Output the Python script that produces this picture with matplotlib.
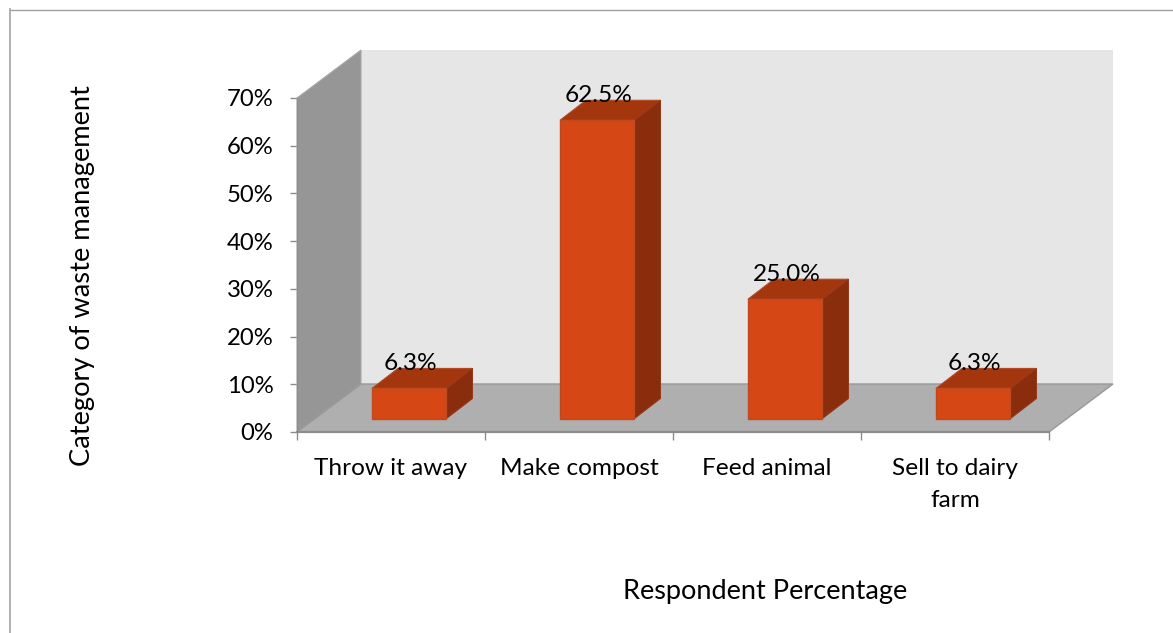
import matplotlib
matplotlib.use('Agg')
import matplotlib.pyplot as plt
from matplotlib.lines import Line2D
from matplotlib.patches import Polygon

categories = ['Throw it away', 'Make compost', 'Feed animal', 'Sell to dairy\nfarm']
values = [6.3, 62.5, 25.0, 6.3]
value_labels = ['6.3%', '62.5%', '25.0%', '6.3%']
y_ticks = [0, 10, 20, 30, 40, 50, 60, 70]

W, H = 1173, 633
LEFT, RIGHT, BOTTOM, TOP = 297, 1049, 432, 98

plt.rcParams['font.family'] = ['Lato', 'DejaVu Sans']

fig = plt.figure(figsize=(W / 100, H / 100), dpi=100)
ax = fig.add_axes([LEFT / W, 1 - BOTTOM / H, (RIGHT - LEFT) / W, (BOTTOM - TOP) / H])
ax.set_xlim(0, 4)
ax.set_ylim(0, 70)
ax.patch.set_visible(False)

# pixels per data unit, used for the fake 3d depth
px_x = (RIGHT - LEFT) / 4
px_y = (BOTTOM - TOP) / 70
depth_x = 64 / px_x
depth_y = 48 / px_y


def poly(points, color, z, edge=None, lw=0):
    ax.add_patch(Polygon(points, closed=True, facecolor=color, edgecolor=edge or color,
                         linewidth=lw, zorder=z, clip_on=False))


# back wall, side wall, floor
poly([(depth_x, depth_y), (4 + depth_x, depth_y), (4 + depth_x, 70 + depth_y), (depth_x, 70 + depth_y)],
     '#e6e6e6', 1)
poly([(0, 0), (depth_x, depth_y), (depth_x, 70 + depth_y), (0, 70)], '#969696', 2, '#a8a8a8', 0.8)
poly([(0, 0), (4, 0), (4 + depth_x, depth_y), (depth_x, depth_y)], '#afafaf', 2, '#989898', 1.0)

# bars: front face plus top and side faces
bar_w = 74.5 / px_x
bar_dx = 26 / px_x
bar_dy = 20 / px_y
shift_x = 18.2 / px_x
base = 13.5 / px_y
centers = [i + 0.5 + shift_x for i in range(len(values))]

ax.bar(centers, values, width=bar_w, bottom=base, color='#d54714', edgecolor='#bf4a22',
       linewidth=1.0, zorder=5, clip_on=False)
for c, v, label in zip(centers, values, value_labels):
    x0, x1 = c - bar_w / 2, c + bar_w / 2
    y0, y1 = base, base + v
    poly([(x0, y1), (x1, y1), (x1 + bar_dx, y1 + bar_dy), (x0 + bar_dx, y1 + bar_dy)],
         '#a3360d', 4, '#b04a25', 0.8)
    poly([(x1, y0), (x1 + bar_dx, y0 + bar_dy), (x1 + bar_dx, y1 + bar_dy), (x1, y1)],
         '#8a2d0c', 4, '#96381a', 0.8)
    ax.text(c + 1.5 / px_x, y1 + 25 / px_y, label, ha='center', va='center',
            fontsize=17.6, color='black', zorder=6, clip_on=False)

for side in ['top', 'right']:
    ax.spines[side].set_visible(False)
ax.spines['left'].set_color('#8c8c8c')
ax.spines['bottom'].set_color('#8c8c8c')
ax.spines['bottom'].set_linewidth(1.6)
ax.spines['left'].set_zorder(3)
ax.spines['bottom'].set_zorder(3)

ax.set_yticks(y_ticks)
ax.set_yticklabels([f'{t}%' for t in y_ticks], fontsize=17.2)
ax.tick_params(axis='y', length=5, width=1, color='#8c8c8c', pad=12)

# ticks sit on category boundaries, labels between them
ax.set_xticks(range(5))
ax.set_xticklabels([])
ax.tick_params(axis='x', which='major', length=6, width=1, color='#8c8c8c')
ax.set_xticks([i + 0.5 for i in range(4)], minor=True)
ax.set_xticklabels(categories, minor=True, fontsize=17.6, linespacing=1.6)
ax.tick_params(axis='x', which='minor', length=0, pad=19)

fig.text(83 / W, 1 - 276 / H, 'Category of waste management', rotation=90,
         ha='center', va='center', fontsize=19.6)
fig.text(765 / W, 1 - 591 / H, 'Respondent Percentage', ha='center', va='center', fontsize=19.5)

# outer frame: only top and left edges are present
fig.add_artist(Line2D([10 / W, 1], [1 - 9.5 / H, 1 - 9.5 / H], color='#a0a0a0', linewidth=1))
fig.add_artist(Line2D([10 / W, 10 / W], [1 - 9 / H, 0], color='#b0b0b0', linewidth=1.4))

fig.savefig('out.png', dpi=100)
